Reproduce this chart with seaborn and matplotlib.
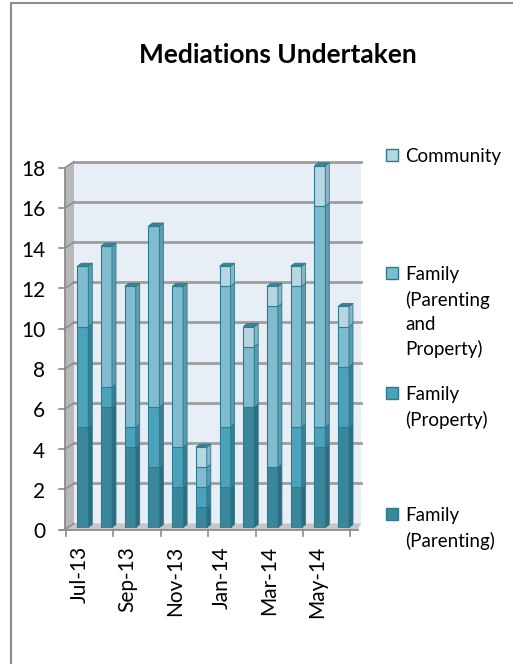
import numpy as np
import pandas as pd
import matplotlib
matplotlib.use("Agg")
import matplotlib.pyplot as plt
import seaborn as sns
from matplotlib.patches import Polygon, Rectangle
from matplotlib.lines import Line2D
from matplotlib.transforms import ScaledTranslation

# ---- data -------------------------------------------------------------
months = ["Jul-13", "Aug-13", "Sep-13", "Oct-13", "Nov-13", "Dec-13",
          "Jan-14", "Feb-14", "Mar-14", "Apr-14", "May-14", "Jun-14"]
family_parenting = [5, 6, 4, 3, 2, 1, 2, 6, 3, 2, 4, 5]
family_property = [5, 1, 1, 3, 2, 1, 3, 0, 0, 3, 1, 3]
family_parenting_property = [3, 7, 7, 9, 8, 1, 7, 3, 8, 7, 11, 2]
community = [0, 0, 0, 0, 0, 1, 1, 1, 1, 1, 2, 1]

series_names = ["Family (Parenting)", "Family (Property)",
                "Family (Parenting and Property)", "Community"]
legend_labels = ["Community", "Family\n(Parenting\nand\nProperty)",
                 "Family\n(Property)", "Family\n(Parenting)"]
yticks = [0, 2, 4, 6, 8, 10, 12, 14, 16, 18]
title = "Mediations Undertaken"

# ---- style ------------------------------------------------------------
plt.rcParams["font.family"] = "Lato"
face_colors = ["#3A879C", "#4BA3BB", "#80BCCF", "#B6D7E2"]
side_colors = ["#2C6C7F", "#387F94", "#5C9BB0", "#88B6C6"]
EDGE = "#2E7A8F"
CAP = "#3C8297"

W, H = 513, 664
CAT = 23.7          # pixels per category
UNIT = 20.1         # pixels per y unit
AX_L = 71
AX_BOT = 527.5

fig = plt.figure(figsize=(W / 100, H / 100), dpi=100)
fig.patch.set_facecolor("white")
ax = fig.add_axes([AX_L / W, 1 - AX_BOT / H, 12 * CAT / W, 18 * UNIT / H])
ax.set_facecolor("none")

df = pd.DataFrame({"month": months,
                   series_names[0]: family_parenting,
                   series_names[1]: family_property,
                   series_names[2]: family_parenting_property,
                   series_names[3]: community})

BAR_W = 0.46
DX = 4 / CAT
DY = 3 / UNIT

# stacked bars, bottom segment first
bottom = np.zeros(len(months))
stacks = []
for name, fc in zip(series_names, face_colors):
    vals = df[name].to_numpy(dtype=float)
    sns.barplot(data=df, x="month", y=name, order=months, color=fc,
                saturation=1, width=BAR_W, bottom=bottom.copy(),
                edgecolor=EDGE, linewidth=0.8, errorbar=None, ax=ax, zorder=3)
    stacks.append((bottom.copy(), vals))
    bottom = bottom + vals

# right-hand side faces of each segment
for (base, vals), sc in zip(stacks, side_colors):
    for i, (b0, v) in enumerate(zip(base, vals)):
        if v <= 0:
            continue
        x1 = i + BAR_W / 2
        ax.add_patch(Polygon([(x1, b0), (x1 + DX, b0 + DY),
                              (x1 + DX, b0 + v + DY), (x1, b0 + v)],
                             closed=True, facecolor=sc, edgecolor=EDGE,
                             linewidth=0.6, zorder=3.2, clip_on=False))

# top caps
for i, tot in enumerate(bottom):
    x0, x1 = i - BAR_W / 2, i + BAR_W / 2
    ax.add_patch(Polygon([(x0, tot), (x1, tot), (x1 + DX, tot + DY),
                          (x0 + DX, tot + DY)], closed=True,
                         facecolor=CAP, edgecolor=EDGE, linewidth=0.6,
                         zorder=3.4, clip_on=False))

ax.set_xlim(-0.5, 11.5)
ax.set_ylim(0, 18)
for s in ax.spines.values():
    s.set_visible(False)
ax.grid(False)


# ---- pixel helpers for the box around the plot ------------------------
def bx(xd):
    return AX_L + (xd + 0.5) * CAT


def by(yd):
    return AX_BOT - yd * UNIT


def F(xp, yp):
    return (xp / W, 1 - yp / H)


def fig_poly(pts, **kw):
    ax.add_patch(Polygon([F(*p) for p in pts], closed=True,
                         transform=fig.transFigure, clip_on=False, **kw))


def fig_line(xs, ys, **kw):
    ax.add_line(Line2D([x / W for x in xs], [1 - y / H for y in ys],
                       transform=fig.transFigure, clip_on=False, **kw))


BX, BY = 3, -4       # back wall offset
FX, FY = -6, 2       # front edge offset
left_b, left_f = bx(-0.5) + BX, bx(-0.5) + FX
right_b = 361
right_f = 358

# back wall
fig_poly([(left_b, by(18) + BY), (right_b, by(18) + BY),
          (right_b, by(0) + BY), (left_b, by(0) + BY)],
         facecolor="#E7EEF6", edgecolor="none", zorder=0)
# left wall
fig_poly([(left_f, by(0) + FY), (left_f, by(18) + FY),
          (left_b, by(18) + BY), (left_b, by(0) + BY)],
         facecolor="#B8B8B8", edgecolor="none", zorder=1)
# floor
fig_poly([(left_f, by(0) + FY), (right_f, by(0) + FY),
          (right_b, by(0) + BY), (left_b, by(0) + BY)],
         facecolor="#C6C6C6", edgecolor="none", zorder=1.5)

# gridlines on the back wall and across the side wall
for k in yticks:
    if k > 0:
        fig_line([left_b, right_b], [by(k) + BY] * 2, color="#9E9E9E",
                 lw=2.0, zorder=1.2)
    fig_line([left_f, left_b], [by(k) + FY, by(k) + BY], color="#8E8E8E",
             lw=1.2, zorder=2)
    fig_line([left_f - 6, left_f], [by(k) + FY] * 2, color="#8C8C8C",
             lw=1.2, zorder=4)

# front axis lines and category ticks
fig_line([left_f, left_f], [by(0) + FY, by(18) + FY], color="#8C8C8C",
         lw=1.3, zorder=4)
fig_line([left_f - 5, right_f], [by(0) + FY] * 2, color="#8C8C8C",
         lw=1.3, zorder=4)
for b in np.arange(-0.5, 12, 2):
    xf = bx(b) - 5
    fig_line([xf, xf], [by(0) + FY, by(0) + FY + 6], color="#8C8C8C",
             lw=1.2, zorder=4)

# tick labels
ax.set_yticks(yticks)
ax.set_yticklabels([str(v) for v in yticks])
ax.tick_params(axis="y", length=0, pad=18.5, labelsize=15, labelcolor="black")
for lab in ax.get_yticklabels():
    lab.set_transform(lab.get_transform() +
                      ScaledTranslation(0, -0.025, fig.dpi_scale_trans))

ax.set_xticks(range(0, 12, 2))
ax.set_xticklabels(months[::2], rotation=90)
ax.tick_params(axis="x", length=0, pad=13.3, labelsize=15, labelcolor="black")
for lab in ax.get_xticklabels():
    lab.set_transform(lab.get_transform() +
                      ScaledTranslation(-0.03, 0, fig.dpi_scale_trans))
ax.set_xlabel("")
ax.set_ylabel("")

# title
fig.text(278 / W, 1 - 63 / H, title, ha="center", va="baseline",
         fontsize=19, fontweight="bold", color="black")

# legend: marker beside the first line of each (wrapped) label
legend_face = [face_colors[3], face_colors[2], face_colors[1], face_colors[0]]
for c_y, lbl, fc in zip([155, 273, 393, 514], legend_labels, legend_face):
    fig.add_artist(Rectangle(F(386, c_y + 6), 12 / W, 12 / H,
                             transform=fig.transFigure, facecolor=fc,
                             edgecolor=EDGE, linewidth=1.0))
    fig.text(405 / W, 1 - (c_y - 7) / H, lbl, ha="left", va="top",
             fontsize=13.5, linespacing=1.5, color="black")

# outer chart border
fig.add_artist(Line2D([11 / W, 11 / W, 1.0], [0.0, 1 - 3 / H, 1 - 3 / H],
                      transform=fig.transFigure, color="#8C8C8C", lw=1.5))

fig.savefig("out.png", dpi=100)
